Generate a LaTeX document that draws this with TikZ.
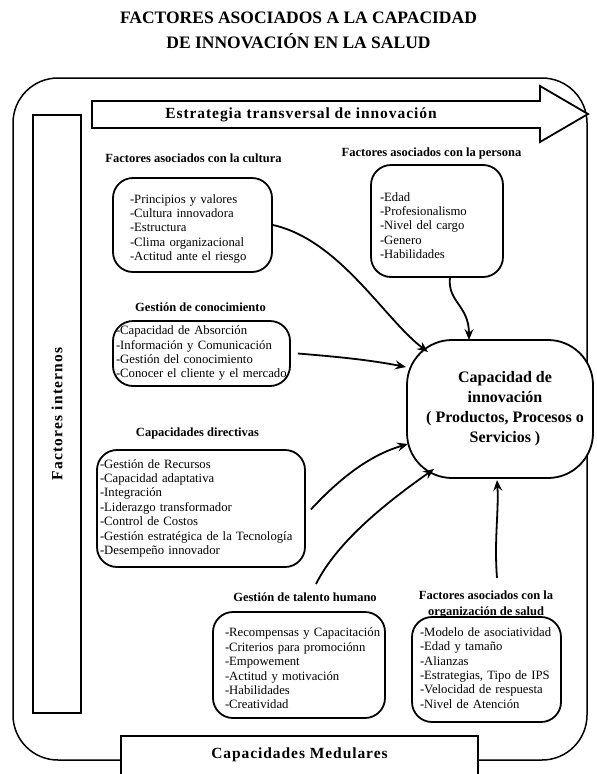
\documentclass[tikz,border=0pt]{standalone}
\usepackage{fontspec}
\setmainfont{Liberation Serif}
\usetikzlibrary{arrows.meta}
\newcommand{\itemlines}[2][0pt]{\raisebox{-#1}[\height][\depth]{\begin{tabular}[c]{@{}l@{}}#2\end{tabular}}}
\tikzset{
  box/.style={draw, line width=1.8pt, rounded corners=20pt, align=left,
    font=\fontsize{12.7}{14.4}\selectfont, inner ysep=0pt},
  head/.style={font=\bfseries\fontsize{12.5}{16}\selectfont, align=center},
  big/.style={font=\bfseries\fontsize{15.5}{18}\selectfont\addfontfeature{LetterSpace=6}},
  conn/.style={line width=1.8pt, -{Stealth[length=11pt,width=9pt,inset=4pt]}},
}
\begin{document}
\begin{tikzpicture}[x=1pt,y=-1pt]
\useasboundingbox (0,0) rectangle (597,774);
\clip (0,0) rectangle (597,774);
% title
\node[font=\bfseries\fontsize{17.5}{25}\selectfont, align=center] (title) at (298.5,30.5)
  {FACTORES ASOCIADOS A LA CAPACIDAD\\DE INNOVACIÓN EN LA SALUD};
% outer frame
\draw[line width=1.5pt, rounded corners=45pt] (13,78) rectangle (587,760);
% strategy arrow
\draw[line width=1.8pt, fill=white] (92,101) -- (540,101) -- (540,86) -- (588,114)
  -- (540,142) -- (540,128) -- (92,128) -- cycle;
\node[big] (estr) at (301,114.5) {Estrategia transversal de innovación};
% left box
\node[draw, line width=1.8pt, rotate=90, minimum width=598pt, minimum height=48pt, big]
  (fi) at (57,414) {\addfontfeature{LetterSpace=8}Factores internos\hspace{8pt}};
% bottom box
\draw[line width=1.8pt, fill=white] (121,800) -- (121,736) -- (478,736) -- (478,800);
\node[big] (med) at (299.5,755) {Capacidades Medulares};
% headings
\node[head] (hcul) at (193.5,158) {Factores asociados con la cultura};
\node[head] (hper) at (431.5,153) {Factores asociados con la persona};
\node[head] (hcon) at (200.5,307) {Gestión de conocimiento};
\node[head] (hdir) at (197.5,433) {Capacidades directivas};
\node[head] (htal) at (305,597) {Gestión de talento humano};
\node[head] (horg) at (486,605) {Factores asociados con la\\organización de salud};
% boxes
\node[box, text width=125pt, inner xsep=17pt, minimum height=94pt] (cul) at (192.5,225)
  {\itemlines[4pt]{-Principios y valores\\-Cultura innovadora\\-Estructura\\-Clima organizacional\\-Actitud ante el riesgo}};
\node[box, text width=114pt, inner xsep=9pt, minimum height=112pt] (per) at (437,221)
  {\itemlines[6pt]{-Edad\\-Profesionalismo\\-Nivel del cargo\\-Genero\\-Habilidades}};
\node[box, text width=171pt, inner xsep=3pt, minimum height=65pt] (con) at (201.5,353.5)
  {\itemlines{-Capacidad de Absorción\\-Información y Comunicación\\-Gestión del conocimiento\\-Conocer el cliente y el mercado}};
\node[box, text width=202pt, inner xsep=3pt, minimum height=117pt] (dir) at (201,508.5)
  {\itemlines{-Gestión de Recursos\\-Capacidad adaptativa\\-Integración\\-Liderazgo transformador\\-Control de Costos\\-Gestión estratégica de la Tecnología\\-Desempeño innovador}};
\node[box, text width=148pt, inner xsep=12pt, minimum height=106pt] (tal) at (299,665)
  {\itemlines[5pt]{-Recompensas y Capacitación\\-Criterios para promociónn\\-Empowement\\-Actitud y motivación\\-Habilidades\\-Creatividad}};
\node[box, text width=133pt, inner xsep=8pt, minimum height=105pt] (org) at (486.5,669.5)
  {\itemlines{-Modelo de asociatividad\\-Edad y tamaño\\-Alianzas\\-Estrategias, Tipo de IPS\\-Velocidad de respuesta\\-Nivel de Atención}};
% central node
\node[draw, line width=1.8pt, rounded corners=45pt, minimum width=186pt, minimum height=138pt,
  align=center, font=\bfseries\fontsize{16}{20}\selectfont, fill=white] (cap) at (500,409)
  {\hspace{10pt}Capacidad de\\\hspace{10pt}innovación\\\hspace{10pt}( Productos, Procesos o\\\hspace{10pt}Servicios )};
% arrow tips and free ends
\coordinate (t1) at (428,352);
\coordinate (t2) at (469,340);
\coordinate (t3) at (406,367);
\coordinate (t4) at (408,444);
\coordinate (t5) at (434,469);
\coordinate (t6) at (497,480);
\coordinate (s2) at (450,277);
\coordinate (s5) at (316,584);
\coordinate (s6) at (497,578);
% connectors
\draw[conn] (cul.east) .. controls (340,240) and (385,320) .. (t1);
\draw[conn] (s2) .. controls (447,302) and (469,305) .. (t2);
\draw[conn] ([xshift=7pt]con.east) .. controls (340,357) and (370,360) .. (t3);
\draw[conn] ([xshift=5pt,yshift=-1pt]dir.east) .. controls (340,478) and (370,455) .. (t4);
\draw[conn] (s5) .. controls (338,540) and (390,500) .. (t5);
\draw[conn] (s6) .. controls (494,540) and (499,510) .. (t6);
\end{tikzpicture}
\end{document}
